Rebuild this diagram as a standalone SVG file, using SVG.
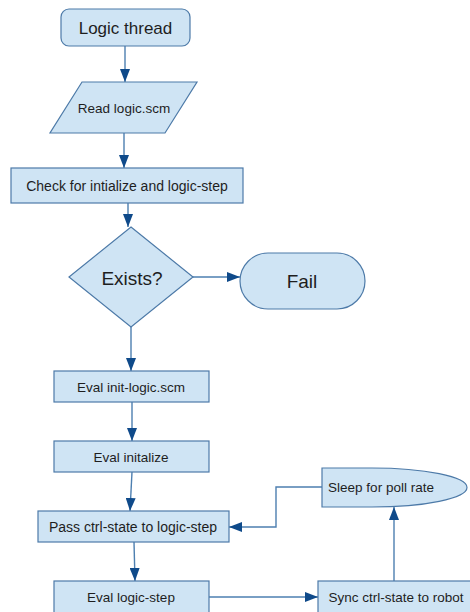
<svg xmlns="http://www.w3.org/2000/svg" width="470" height="612" viewBox="0 0 470 612">
<defs>
<marker id="ah" viewBox="0 0 13 10" refX="13" refY="5" markerWidth="13" markerHeight="10" markerUnits="userSpaceOnUse" orient="auto">
<path d="M0,0 L13,5 L0,10 Z" fill="#0f4a8a"/>
</marker>
<style>
.n{fill:#cfe4f4;stroke:#4d7aa8;stroke-width:1.2}
.t{font-family:"Liberation Sans",Arial,sans-serif;fill:#1e1e1e;text-anchor:middle;dominant-baseline:central}
.c{fill:none;stroke:#4d7fb0;stroke-width:1.4;marker-end:url(#ah)}
</style>
</defs>
<rect width="470" height="612" fill="#fff"/>
<g id="connectors">
<path class="c" d="M125,46 V82"/>
<path class="c" d="M124,133 V168"/>
<path class="c" d="M128,203 V227"/>
<path class="c" d="M193,277 H240"/>
<path class="c" d="M131,327 V371"/>
<path class="c" d="M132,402 V441"/>
<path class="c" d="M132,472 L130,511"/>
<path class="c" d="M134,542 L135,581"/>
<path class="c" d="M209,597 H318"/>
<path class="c" d="M394,581 V507"/>
<path class="c" d="M322,487 H276 V527 H229"/>
</g>
<g id="logic-thread">
<rect class="n" x="61" y="9" width="129" height="37" rx="8"/>
<text class="t" x="125.5" y="28" font-size="17">Logic thread</text>
</g>
<g id="read-logic">
<path class="n" d="M82,82 H197 L165,133 H50 Z"/>
<text class="t" x="124" y="108" font-size="13.5">Read logic.scm</text>
</g>
<g id="check">
<rect class="n" x="11" y="168" width="232" height="35"/>
<text class="t" x="127" y="186" font-size="14">Check for intialize and logic-step</text>
</g>
<g id="exists">
<path class="n" d="M131,227 L193,277 L131,327 L69,277 Z"/>
<text class="t" x="132" y="278" font-size="19">Exists?</text>
</g>
<g id="fail">
<rect class="n" x="240" y="253" width="125" height="56" rx="28"/>
<text class="t" x="302" y="281" font-size="19">Fail</text>
</g>
<g id="eval-init-logic">
<rect class="n" x="54" y="371" width="155" height="31"/>
<text class="t" x="131" y="387" font-size="13.5">Eval init-logic.scm</text>
</g>
<g id="eval-initalize">
<rect class="n" x="54" y="441" width="155" height="31"/>
<text class="t" x="131" y="457" font-size="13.5">Eval initalize</text>
</g>
<g id="pass">
<rect class="n" x="38" y="511" width="191" height="31"/>
<text class="t" x="133" y="527" font-size="14">Pass ctrl-state to logic-step</text>
</g>
<g id="eval-logic-step">
<rect class="n" x="54" y="581" width="155" height="35"/>
<text class="t" x="131" y="597" font-size="13.5">Eval logic-step</text>
</g>
<g id="sync">
<rect class="n" x="318" y="581" width="160" height="35"/>
<text class="t" x="396" y="597" font-size="13.5">Sync ctrl-state to robot</text>
</g>
<g id="sleep">
<path class="n" d="M322,468 H372 A95,19.5 0 0 1 372,507 H322 Z"/>
<text class="t" x="381" y="487" font-size="13.5">Sleep for poll rate</text>
</g>
</svg>
